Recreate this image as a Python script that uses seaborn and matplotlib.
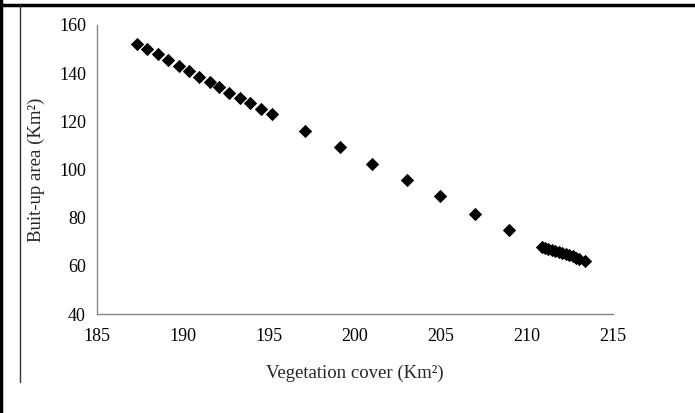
import matplotlib
matplotlib.use('Agg')
import matplotlib.pyplot as plt
from matplotlib.lines import Line2D
import seaborn as sns
import pandas as pd

# Values
vegetation_cover = [187.3, 187.9, 188.55, 189.15, 189.75, 190.35, 190.95, 191.55, 192.1, 192.7,
                    193.3, 193.9, 194.55, 195.15,
                    197.1, 199.1, 201.0, 203.0, 204.95, 206.95, 208.95,
                    210.85, 211.05, 211.25, 211.45, 211.65, 211.85, 212.05, 212.25, 212.45,
                    212.65, 212.85, 213.05, 213.35]
built_up_area = [152.2, 149.9, 147.8, 145.4, 143.1, 140.9, 138.5, 136.5, 134.1, 131.8,
                 129.5, 127.5, 125.2, 123.0,
                 116.0, 109.3, 102.3, 95.7, 89.0, 81.5, 74.7,
                 68.0, 67.5, 67.1, 66.6, 66.2, 65.7, 65.2, 64.8, 64.3,
                 63.9, 63.4, 63.0, 62.0]
x_ticks = [185, 190, 195, 200, 205, 210, 215]
y_ticks = [40, 60, 80, 100, 120, 140, 160]

df = pd.DataFrame({'veg': vegetation_cover, 'built': built_up_area})

sns.set_style('white')
plt.rcParams['font.family'] = ['Liberation Serif', 'DejaVu Serif']

fig = plt.figure(figsize=(6.95, 4.13), dpi=100)
ax = fig.add_axes([0.1396, 0.2397, 0.7424, 0.6998])

sns.scatterplot(data=df, x='veg', y='built', marker='D', s=46, color='black',
                edgecolor='black', linewidth=0, ax=ax)

ax.set_xlim(185, 215)
ax.set_ylim(40, 160)
ax.set_xticks(x_ticks)
ax.set_yticks(y_ticks)
ax.tick_params(axis='both', direction='out', length=5, width=1, color='#868686',
               labelsize=13, labelcolor='black', pad=3)
ax.tick_params(axis='x', pad=5)

for side in ['top', 'right']:
    ax.spines[side].set_visible(False)
for side in ['left', 'bottom']:
    ax.spines[side].set_color('#868686')
    ax.spines[side].set_linewidth(1)

ax.set_xlabel('Vegetation cover (Km²)', fontsize=13.5, labelpad=14)
ax.set_ylabel('Buit-up area (Km²)', fontsize=13.5, labelpad=10)

# page border lines around the figure
fig.add_artist(Line2D([0, 1], [1 - 5 / 413, 1 - 5 / 413], color='black', linewidth=2.5,
                      transform=fig.transFigure))
fig.add_artist(Line2D([1 / 695, 1 / 695], [0, 1], color='black', linewidth=2.5,
                      transform=fig.transFigure))
fig.add_artist(Line2D([20 / 695, 20 / 695], [1 - 382 / 413, 1 - 5 / 413], color='#333333',
                      linewidth=1, transform=fig.transFigure))

fig.savefig('out.png', dpi=100)
